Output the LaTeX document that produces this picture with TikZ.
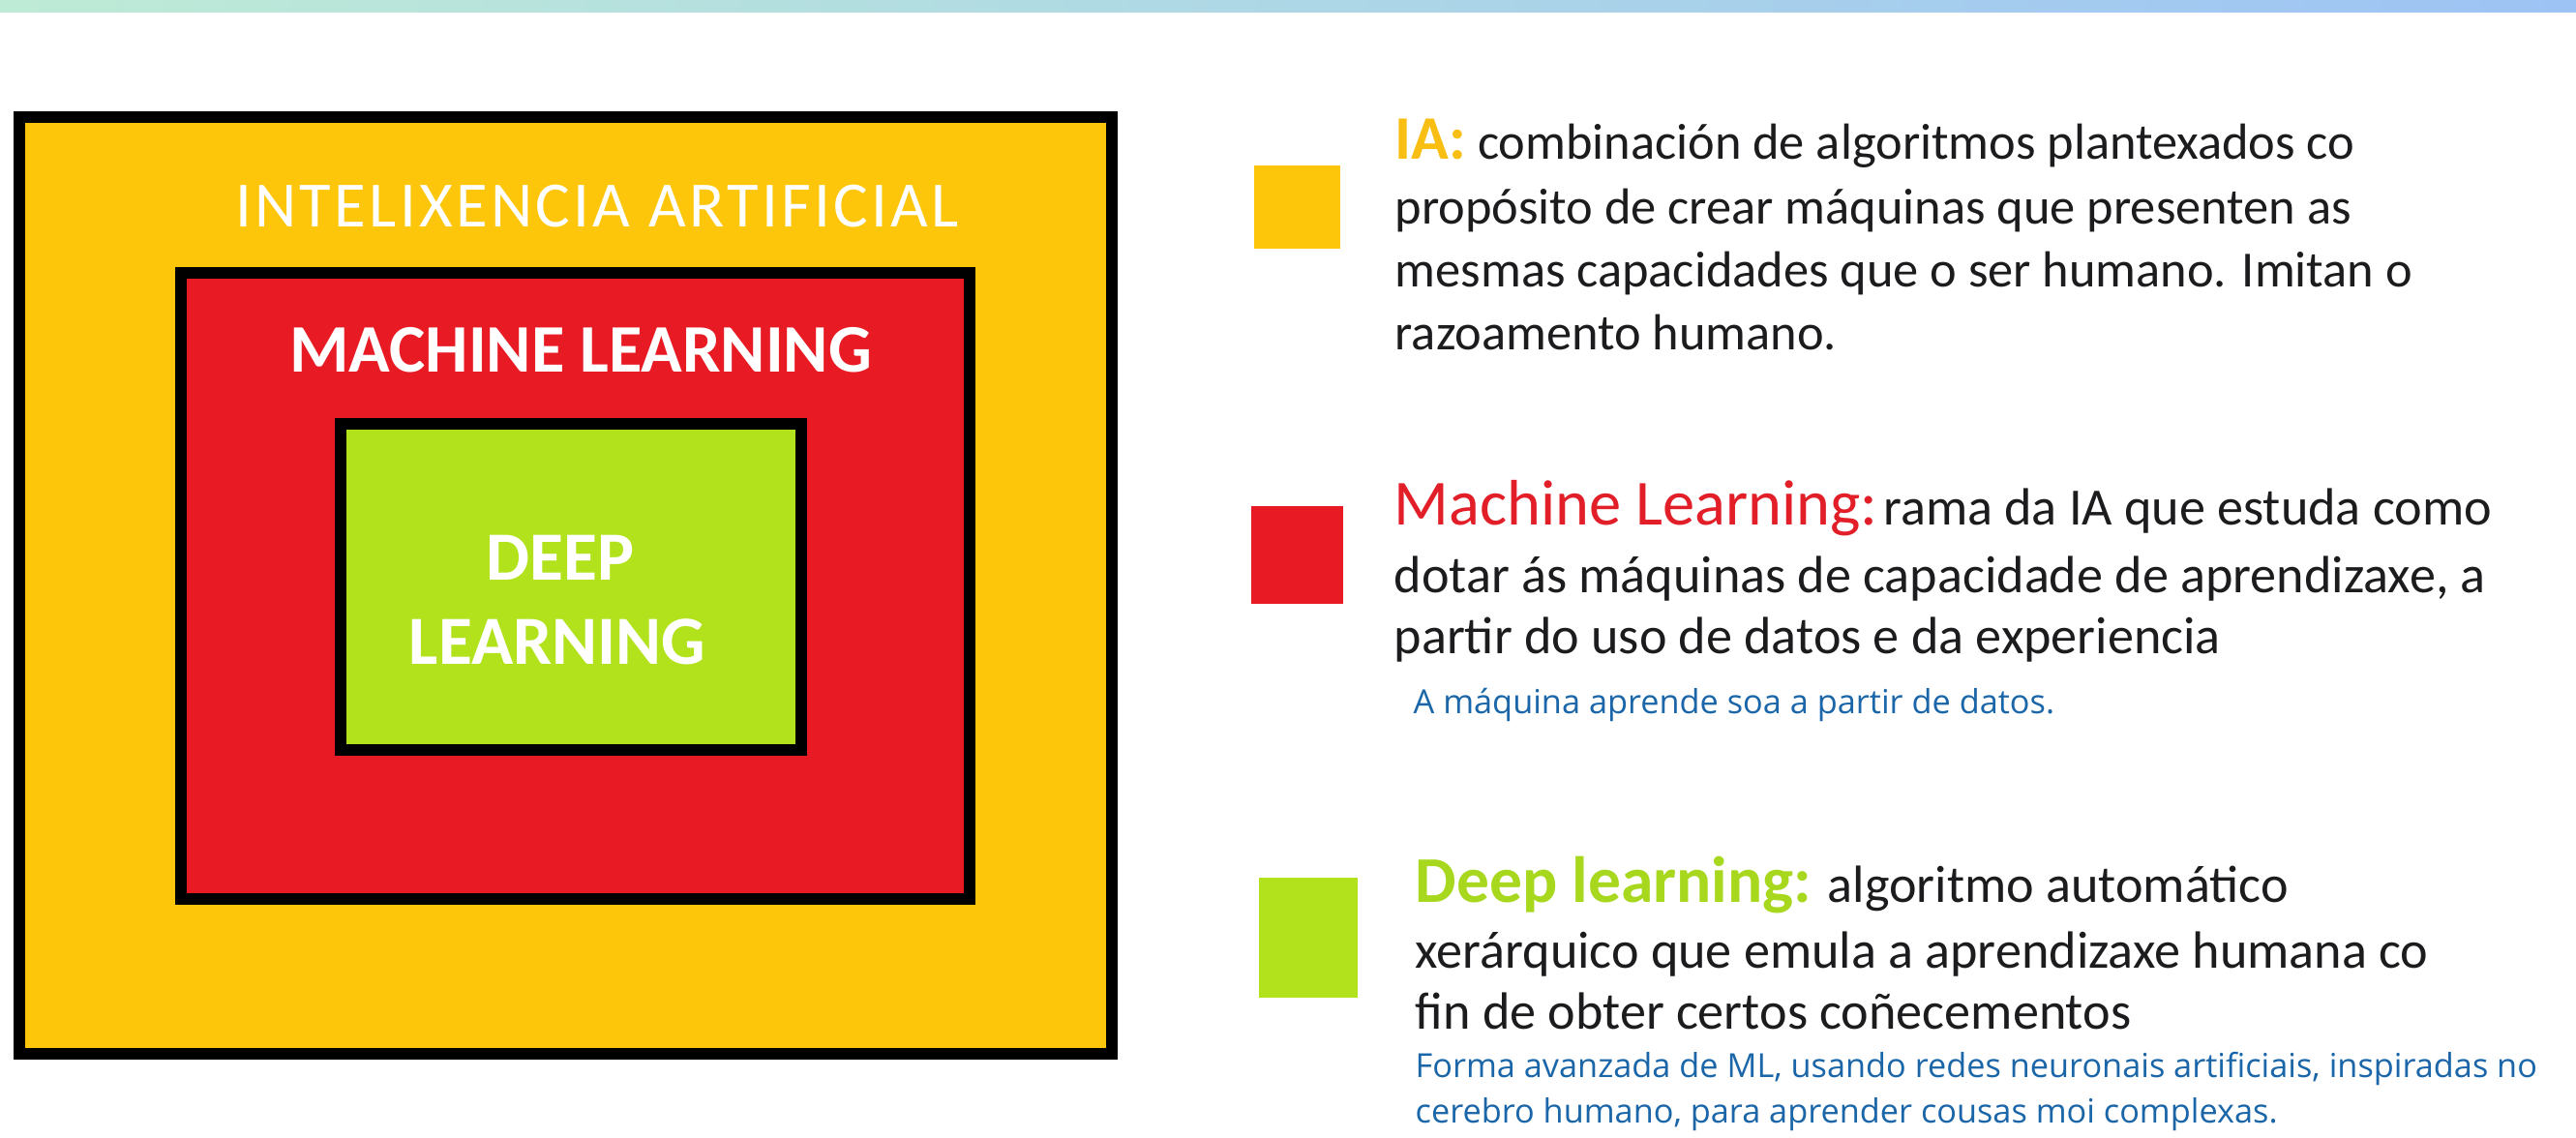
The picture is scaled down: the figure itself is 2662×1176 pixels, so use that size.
\documentclass[tikz,border=0pt]{standalone}
\usepackage{fontspec}
\setmainfont{Carlito}
\newfontfamily\bluefont{Open Sans}
\newfontfamily\titlefont[LetterSpace=5]{Carlito}
\definecolor{boxyel}{RGB}{254,198,11}
\definecolor{boxred}{RGB}{232,27,36}
\definecolor{boxgrn}{RGB}{178,226,28}
\definecolor{hdyel}{RGB}{248,190,18}
\definecolor{hdred}{RGB}{226,30,40}
\definecolor{hdgrn}{RGB}{168,216,30}
\definecolor{bodyk}{RGB}{28,28,30}
\definecolor{noteblue}{RGB}{26,102,168}
\definecolor{barL}{RGB}{190,235,214}
\definecolor{barR}{RGB}{157,195,245}
\tikzset{
  layerbox/.style={draw=black, line width=0.12cm},
  boxtitle/.style={text=white, inner sep=0pt, anchor=base},
  bodyline/.style={anchor=base west, inner sep=0pt, text=bodyk, font=\fontsize{14.9pt}{17pt}\selectfont},
  bodylineL/.style={anchor=base west, inner sep=0pt, text=bodyk, font=\fontsize{15.4pt}{18pt}\selectfont},
  noteline/.style={anchor=base west, inner sep=0pt, text=noteblue, font=\bluefont\fontsize{9.75pt}{12pt}\selectfont},
}
\begin{document}
\begin{tikzpicture}[x=0.01cm, y=-0.01cm]
\useasboundingbox (0,0) rectangle (2662,1176);
\fill[white] (0,0) rectangle (2662,1176);
% top gradient bar
\shade[left color=barL, right color=barR] (0,0) rectangle (2662,13);

% nested boxes
\filldraw[layerbox, fill=boxyel] (20,121) rectangle (1149,1089);
\filldraw[layerbox, fill=boxred] (187,282) rectangle (1002,929);
\filldraw[layerbox, fill=boxgrn] (352,438) rectangle (828,775);

\node[boxtitle, font=\titlefont\fontsize{19pt}{24pt}\selectfont] (tIA) at (617,235) {INTELIXENCIA ARTIFICIAL};
\node[boxtitle, font=\bfseries\fontsize{20pt}{24pt}\selectfont] (tML) at (600,385) {MACHINE LEARNING};
\node[boxtitle, font=\bfseries\fontsize{20.3pt}{24pt}\selectfont] (tDL1) at (579,600) {DEEP};
\node[boxtitle, font=\bfseries\fontsize{20.3pt}{24pt}\selectfont] (tDL2) at (576,686) {LEARNING};

% legend squares
\fill[boxyel] (1296,171) rectangle (1385,257);
\fill[boxred] (1293,523) rectangle (1388,624);
\fill[boxgrn] (1301,907) rectangle (1403,1031);

% IA block
\node[bodyline] (ia1) at (1441,165) {{\bfseries\color{hdyel}\fontsize{18.2pt}{20pt}\selectfont IA:} combinación de algoritmos plantexados co};
\node[bodyline] (ia2) at (1441,232) {propósito de crear máquinas que presenten as};
\node[bodyline] (ia3) at (1441,297) {mesmas capacidades que o ser humano. Imitan o};
\node[bodyline] (ia4) at (1441,362) {razoamento humano.};

% ML block
\node[bodylineL] (ml1) at (1440,543) {{\color{hdred}\fontsize{18.9pt}{20pt}\selectfont Machine Learning:}\hspace{0.1em}rama da IA que estuda como};
\node[bodylineL] (ml2) at (1440,612) {dotar ás máquinas de capacidade de aprendizaxe, a};
\node[bodylineL] (ml3) at (1440,675) {partir do uso de datos e da experiencia};
\node[noteline] (mln) at (1460,737) {A máquina aprende soa a partir de datos.};

% DL block
\node[bodylineL] (dl1) at (1462,932) {{\bfseries\color{hdgrn}\fontsize{19.2pt}{20pt}\selectfont Deep learning:} algoritmo automático};
\node[bodylineL] (dl2) at (1462,1000) {xerárquico que emula a aprendizaxe humana co};
\node[bodylineL] (dl3) at (1462,1063) {fin de obter certos coñecementos};
\node[noteline] (dln1) at (1462,1113) {Forma avanzada de ML, usando redes neuronais artificiais, inspiradas no};
\node[noteline] (dln2) at (1462,1160) {cerebro humano, para aprender cousas moi complexas.};
\end{tikzpicture}
\end{document}
